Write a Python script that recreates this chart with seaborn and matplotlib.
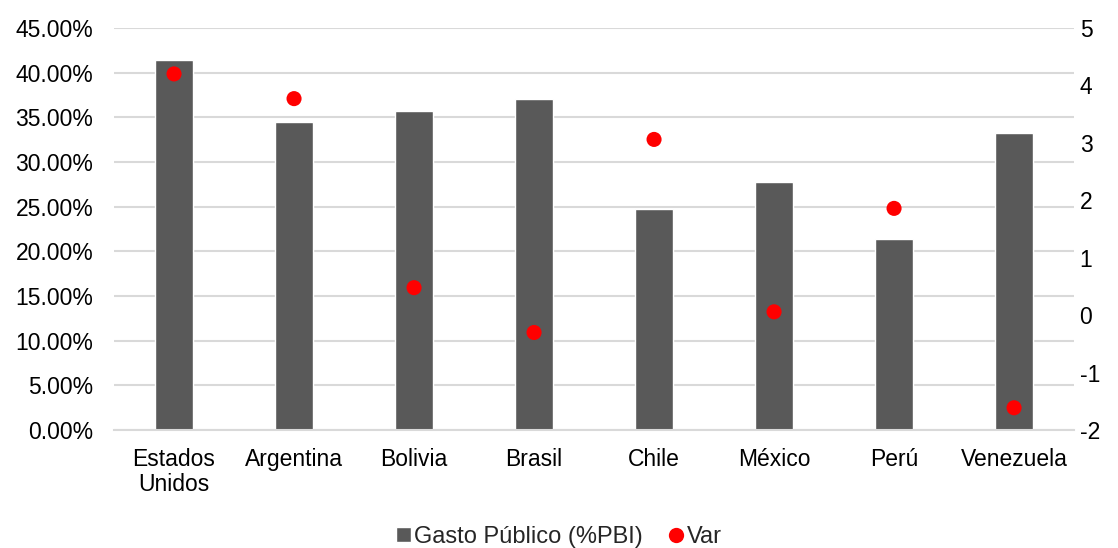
import seaborn as sns
import matplotlib.pyplot as plt
import pandas as pd
from matplotlib.ticker import PercentFormatter
from matplotlib.lines import Line2D
from matplotlib.patches import Patch

paises = ['Estados\nUnidos', 'Argentina', 'Bolivia', 'Brasil', 'Chile', 'México', 'Perú', 'Venezuela']
gasto = [0.414, 0.345, 0.3575, 0.371, 0.248, 0.278, 0.2135, 0.3325]
var = [4.20, 3.77, 0.48, -0.30, 3.06, 0.06, 1.86, -1.61]

df = pd.DataFrame({'pais': paises, 'gasto': gasto, 'var': var})

sns.set_style('white')
plt.rcParams['font.family'] = ['Liberation Sans', 'DejaVu Sans']
plt.rcParams['axes.unicode_minus'] = False

fs = 16.5
f = plt.figure(figsize=(11.18, 5.48), dpi=100)
a = f.add_axes([0.102, 0.215, 0.8587, 0.734])

sns.barplot(x='pais', y='gasto', data=df, color='#595959', width=0.31, saturation=1, ax=a, zorder=2)
a.set_ylim(0, 0.45)
a.set_xlim(-0.5, 7.5)
a.set_yticks([i * 0.05 for i in range(10)])
a.yaxis.set_major_formatter(PercentFormatter(1.0, decimals=2))
a.grid(axis='y', color='#D9D9D9', linewidth=1.5, zorder=0)
a.set_axisbelow(True)
a.set_xlabel('')
a.set_ylabel('')
for s in ['top', 'left', 'right']:
    a.spines[s].set_visible(False)
a.spines['bottom'].set_color('#D9D9D9')
a.spines['bottom'].set_linewidth(1.5)
a.tick_params(axis='both', length=0, labelsize=fs, colors='#000000')
a.tick_params(axis='y', pad=15)
a.tick_params(axis='x', pad=13)
for t in a.get_xticklabels():
    t.set_linespacing(1.1)

b = a.twinx()
sns.scatterplot(x='pais', y='var', data=df, color='#FF0000', s=118, edgecolor='none', ax=b, zorder=3)
b.set_ylim(-2, 5)
b.set_yticks(range(-2, 6))
b.set_ylabel('')
b.set_xlabel('')
for s in ['top', 'left', 'right', 'bottom']:
    b.spines[s].set_visible(False)
b.tick_params(axis='y', length=0, labelsize=fs, pad=4, colors='#000000')

handles = [Patch(facecolor='#595959', label='Gasto Público (%PBI)'),
           Line2D([], [], marker='o', color='none', markerfacecolor='#FF0000',
                  markeredgecolor='none', markersize=11, label='Var')]
f.legend(handles=handles, loc='center', bbox_to_anchor=(0.5, 0.02), ncol=2, frameon=False,
         fontsize=17, handlelength=0.63, handleheight=0.63, handletextpad=0.15, columnspacing=1.1)

f.savefig('out.png', dpi=100)
